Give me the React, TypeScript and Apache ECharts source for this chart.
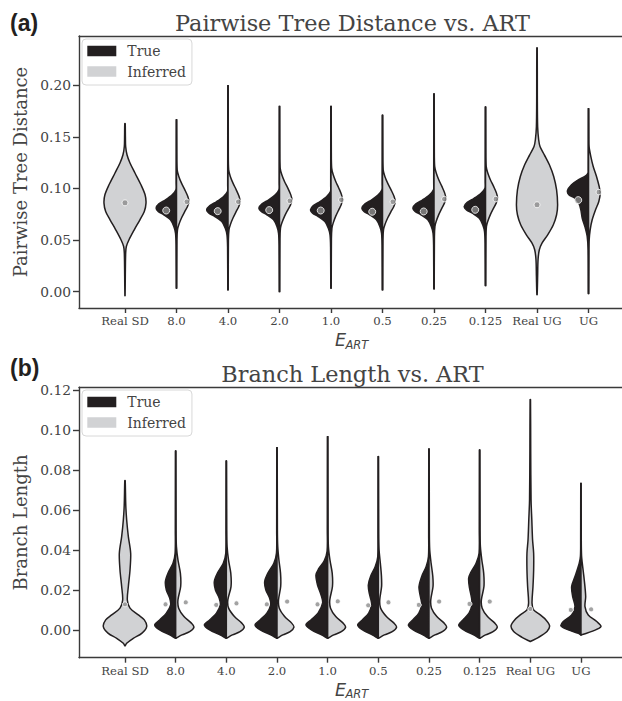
import React, { useEffect, useRef } from "react";
import * as echarts from "echarts";

const categories = ["Real SD", "8.0", "4.0", "2.0", "1.0", "0.5", "0.25", "0.125", "Real UG", "UG"];
const aTicks = [0, 0.05, 0.1, 0.15, 0.2];
const bTicks = [0, 0.02, 0.04, 0.06, 0.08, 0.1, 0.12];

// ---- Panel (a): violin profiles, [value, half-width in category units], top to bottom
const aRealSD = [[0.163,0.004],[0.15,0.008],[0.1408,0.013],[0.1327,0.039],[0.1247,0.097],[0.115,0.194],[0.1036,0.31],[0.0939,0.39],[0.0858,0.408],[0.0777,0.375],[0.0696,0.29],[0.0599,0.18],[0.0502,0.078],[0.0437,0.026],[0.0373,0.013],[0.015,0.006],[-0.004,0.002]];
const aRealUG = [[0.2366,0.004],[0.19,0.006],[0.16,0.012],[0.1473,0.032],[0.1408,0.058],[0.1327,0.142],[0.123,0.24],[0.1117,0.324],[0.0987,0.38],[0.0842,0.4],[0.0745,0.38],[0.0648,0.317],[0.055,0.207],[0.047,0.097],[0.0405,0.045],[0.0308,0.02],[0.015,0.012],[-0.003,0.003]];
const a8True = [[0.1666,0.004],[0.105,0.006],[0.0987,0.01],[0.0939,0.084],[0.089,0.214],[0.0851,0.343],[0.081,0.395],[0.0777,0.356],[0.0745,0.246],[0.0696,0.117],[0.0631,0.052],[0.0567,0.019],[0.045,0.008],[0.0033,0.004]];
const a8Inf = [[0.1666,0.004],[0.135,0.006],[0.1182,0.013],[0.1117,0.045],[0.1052,0.097],[0.0987,0.162],[0.0922,0.22],[0.0874,0.24],[0.0825,0.214],[0.0777,0.162],[0.0713,0.097],[0.0648,0.045],[0.0599,0.019],[0.05,0.008],[0.0033,0.004]];
const a4True = [[0.1997,0.004],[0.103,0.006],[0.097,0.01],[0.0922,0.086],[0.0873,0.22],[0.0834,0.352],[0.0793,0.414],[0.076,0.37],[0.0728,0.255],[0.0679,0.12],[0.0614,0.053],[0.055,0.02],[0.043,0.008],[0.0017,0.004]];
const a4Inf = [[0.1997,0.004],[0.135,0.006],[0.1182,0.013],[0.1117,0.045],[0.1052,0.097],[0.0987,0.16],[0.0922,0.216],[0.0874,0.233],[0.0825,0.21],[0.0777,0.16],[0.0713,0.097],[0.0648,0.045],[0.0599,0.019],[0.05,0.008],[0.0017,0.004]];
const a2True = [[0.1796,0.004],[0.105,0.006],[0.0987,0.01],[0.0939,0.082],[0.089,0.21],[0.0851,0.34],[0.081,0.4],[0.0777,0.355],[0.0745,0.245],[0.0696,0.115],[0.0631,0.05],[0.0567,0.019],[0.045,0.008],[0.0,0.004]];
const a2Inf = [[0.1796,0.004],[0.137,0.006],[0.1198,0.013],[0.1133,0.045],[0.1068,0.097],[0.1003,0.162],[0.0938,0.22],[0.089,0.24],[0.0841,0.214],[0.0793,0.162],[0.0729,0.097],[0.0664,0.045],[0.0615,0.019],[0.051,0.008],[0.0,0.004]];
const a1True = [[0.1796,0.004],[0.103,0.006],[0.097,0.01],[0.0922,0.084],[0.0873,0.214],[0.0834,0.343],[0.0793,0.398],[0.076,0.358],[0.0728,0.248],[0.0679,0.118],[0.0614,0.052],[0.055,0.019],[0.043,0.008],[0.0033,0.004]];
const a1Inf = [[0.1796,0.004],[0.137,0.006],[0.1198,0.013],[0.1133,0.043],[0.1068,0.092],[0.1003,0.152],[0.0938,0.205],[0.089,0.22],[0.0841,0.198],[0.0793,0.15],[0.0729,0.09],[0.0664,0.042],[0.0615,0.018],[0.051,0.008],[0.0033,0.004]];
const a05True = [[0.171,0.004],[0.105,0.006],[0.0987,0.01],[0.0939,0.083],[0.089,0.21],[0.0851,0.34],[0.081,0.4],[0.0777,0.36],[0.0745,0.25],[0.0696,0.118],[0.0631,0.052],[0.0567,0.019],[0.045,0.008],[0.0017,0.004]];
const a05Inf = [[0.171,0.004],[0.135,0.006],[0.1182,0.013],[0.1117,0.046],[0.1052,0.1],[0.0987,0.166],[0.0922,0.225],[0.0874,0.246],[0.0825,0.22],[0.0777,0.166],[0.0713,0.1],[0.0648,0.046],[0.0599,0.019],[0.05,0.008],[0.0017,0.004]];
const a025True = [[0.1917,0.004],[0.105,0.006],[0.0987,0.01],[0.0939,0.086],[0.089,0.22],[0.0851,0.352],[0.081,0.41],[0.0777,0.368],[0.0745,0.254],[0.0696,0.12],[0.0631,0.053],[0.0567,0.019],[0.045,0.008],[0.0026,0.004]];
const a025Inf = [[0.1917,0.004],[0.138,0.006],[0.1215,0.013],[0.115,0.043],[0.1085,0.092],[0.102,0.153],[0.0955,0.208],[0.0907,0.227],[0.0858,0.202],[0.081,0.153],[0.0746,0.092],[0.0681,0.043],[0.0632,0.018],[0.053,0.008],[0.0026,0.004]];
const a0125True = [[0.179,0.004],[0.1065,0.006],[0.1002,0.01],[0.0954,0.087],[0.0905,0.222],[0.0866,0.355],[0.0825,0.414],[0.0792,0.37],[0.076,0.255],[0.0711,0.12],[0.0646,0.053],[0.0582,0.019],[0.046,0.008],[0.0058,0.004]];
const a0125Inf = [[0.179,0.004],[0.138,0.006],[0.1215,0.013],[0.115,0.044],[0.1085,0.094],[0.102,0.157],[0.0955,0.213],[0.0907,0.233],[0.0858,0.207],[0.081,0.157],[0.0746,0.094],[0.0681,0.044],[0.0632,0.018],[0.053,0.008],[0.0058,0.004]];
const aUGTrue = [[0.1774,0.004],[0.118,0.006],[0.115,0.01],[0.1117,0.071],[0.1084,0.2],[0.1036,0.33],[0.098,0.408],[0.0939,0.382],[0.0907,0.266],[0.0858,0.188],[0.0793,0.149],[0.0713,0.123],[0.0631,0.071],[0.0534,0.026],[0.04,0.008],[-0.002,0.004]];
const aUGInf = [[0.1774,0.004],[0.15,0.006],[0.1408,0.01],[0.131,0.045],[0.1214,0.091],[0.1117,0.155],[0.1019,0.207],[0.0955,0.227],[0.0874,0.2],[0.0793,0.136],[0.0696,0.071],[0.0599,0.032],[0.0502,0.013],[0.04,0.008],[-0.002,0.004]];

const aFull = [aRealSD, null, null, null, null, null, null, null, aRealUG, null];
const aTrue = [null, a8True, a4True, a2True, a1True, a05True, a025True, a0125True, null, aUGTrue];
const aInf = [null, a8Inf, a4Inf, a2Inf, a1Inf, a05Inf, a025Inf, a0125Inf, null, aUGInf];
const aRealMeans = [0.0861, null, null, null, null, null, null, null, 0.0842, null];
const aTrueMeans = [null, 0.0786, 0.078, 0.079, 0.0786, 0.0774, 0.0777, 0.0793, null, 0.0887];
const aInfMeans = [null, 0.0871, 0.0871, 0.088, 0.089, 0.0871, 0.0897, 0.0897, null, 0.0965];

// ---- Panel (b)
const bRealSD = [[0.0747,0.004],[0.0625,0.015],[0.055,0.033],[0.0467,0.066],[0.0384,0.112],[0.03,0.099],[0.0217,0.066],[0.015,0.046],[0.0109,0.099],[0.0075,0.263],[0.005,0.381],[0.0017,0.428],[-0.0017,0.33],[-0.0042,0.164],[-0.0067,0.033],[-0.008,0.002]];
const bRealUG = [[0.1153,0.004],[0.09,0.008],[0.065,0.015],[0.055,0.03],[0.045,0.045],[0.0384,0.066],[0.03,0.066],[0.0217,0.053],[0.0134,0.034],[0.01,0.066],[0.0075,0.197],[0.005,0.309],[0.002,0.381],[-0.0008,0.329],[-0.0037,0.164],[-0.0058,0.002]];
const b8True = [[0.0895,0.004],[0.05,0.006],[0.0385,0.01],[0.0334,0.053],[0.0284,0.152],[0.0242,0.203],[0.02,0.184],[0.0159,0.118],[0.0125,0.099],[0.0084,0.184],[0.005,0.316],[0.0025,0.414],[0.0,0.316],[-0.0025,0.118],[-0.0042,0.002]];
const b8Inf = [[0.0895,0.004],[0.05,0.008],[0.0417,0.015],[0.035,0.045],[0.0284,0.093],[0.0217,0.099],[0.015,0.045],[0.0109,0.059],[0.0067,0.164],[0.0034,0.31],[0.0014,0.361],[-0.0009,0.276],[-0.0025,0.124],[-0.0042,0.002]];
const b4True = [[0.0845,0.004],[0.05,0.006],[0.0385,0.01],[0.0334,0.06],[0.0284,0.175],[0.0242,0.237],[0.02,0.215],[0.0159,0.14],[0.0125,0.118],[0.0084,0.195],[0.005,0.33],[0.0025,0.434],[0.0,0.33],[-0.0025,0.124],[-0.0042,0.002]];
const b4Inf = [[0.0845,0.004],[0.05,0.008],[0.0417,0.015],[0.035,0.043],[0.0284,0.088],[0.0217,0.093],[0.015,0.03],[0.0109,0.045],[0.0067,0.16],[0.0034,0.305],[0.0014,0.355],[-0.0009,0.27],[-0.0025,0.12],[-0.0042,0.002]];
const b2True = [[0.0912,0.004],[0.05,0.006],[0.0385,0.01],[0.0334,0.062],[0.0284,0.18],[0.0242,0.243],[0.02,0.22],[0.0159,0.145],[0.0125,0.124],[0.0084,0.2],[0.005,0.335],[0.0025,0.434],[0.0,0.33],[-0.0025,0.124],[-0.0042,0.002]];
const b2Inf = [[0.0912,0.004],[0.05,0.008],[0.0417,0.015],[0.035,0.038],[0.0284,0.07],[0.0217,0.073],[0.015,0.03],[0.0109,0.045],[0.0067,0.15],[0.0034,0.29],[0.0014,0.335],[-0.0009,0.26],[-0.0025,0.115],[-0.0042,0.002]];
const b1True = [[0.0967,0.004],[0.05,0.006],[0.0395,0.01],[0.0345,0.07],[0.0305,0.18],[0.0275,0.231],[0.0225,0.2],[0.0175,0.13],[0.0135,0.099],[0.0084,0.19],[0.005,0.33],[0.0025,0.428],[0.0,0.32],[-0.0025,0.12],[-0.0042,0.002]];
const b1Inf = [[0.0967,0.004],[0.05,0.008],[0.0417,0.015],[0.035,0.045],[0.0284,0.09],[0.0217,0.095],[0.015,0.042],[0.0109,0.057],[0.0067,0.16],[0.0034,0.305],[0.0014,0.355],[-0.0009,0.27],[-0.0025,0.12],[-0.0042,0.002]];
const b05True = [[0.0867,0.004],[0.048,0.006],[0.0367,0.01],[0.0317,0.06],[0.027,0.15],[0.0225,0.197],[0.0185,0.18],[0.015,0.145],[0.0125,0.132],[0.0084,0.19],[0.005,0.315],[0.0025,0.408],[0.0,0.31],[-0.0025,0.118],[-0.0042,0.002]];
const b05Inf = [[0.0867,0.004],[0.048,0.008],[0.04,0.015],[0.0334,0.04],[0.027,0.062],[0.0217,0.065],[0.015,0.028],[0.0109,0.045],[0.0067,0.16],[0.0034,0.31],[0.0014,0.361],[-0.0009,0.275],[-0.0025,0.12],[-0.0042,0.002]];
const b025True = [[0.0905,0.004],[0.048,0.006],[0.0367,0.01],[0.0317,0.055],[0.027,0.14],[0.0217,0.197],[0.018,0.18],[0.015,0.155],[0.0125,0.144],[0.0084,0.2],[0.005,0.32],[0.0025,0.408],[0.0,0.31],[-0.0025,0.118],[-0.0042,0.002]];
const b025Inf = [[0.0905,0.004],[0.048,0.008],[0.04,0.015],[0.0334,0.042],[0.027,0.075],[0.0217,0.08],[0.015,0.035],[0.0109,0.05],[0.0067,0.155],[0.0034,0.3],[0.0014,0.349],[-0.0009,0.265],[-0.0025,0.118],[-0.0042,0.002]];
const b0125True = [[0.09,0.004],[0.05,0.006],[0.0385,0.01],[0.0334,0.07],[0.029,0.17],[0.0258,0.217],[0.021,0.2],[0.016,0.16],[0.0125,0.152],[0.0084,0.21],[0.005,0.33],[0.0025,0.414],[0.0,0.315],[-0.0025,0.118],[-0.0042,0.002]];
const b0125Inf = [[0.09,0.004],[0.05,0.008],[0.0417,0.015],[0.035,0.043],[0.0284,0.08],[0.0217,0.085],[0.015,0.034],[0.0109,0.05],[0.0067,0.155],[0.0034,0.3],[0.0014,0.349],[-0.0009,0.265],[-0.0025,0.118],[-0.0042,0.002]];
const bUGTrue = [[0.0733,0.004],[0.045,0.006],[0.037,0.01],[0.0334,0.034],[0.0267,0.118],[0.0217,0.184],[0.0167,0.164],[0.0117,0.118],[0.0075,0.184],[0.0042,0.349],[0.002,0.395],[0.0,0.25],[-0.0017,0.053],[-0.0025,0.002]];
const bUGInf = [[0.0733,0.004],[0.045,0.006],[0.037,0.012],[0.0334,0.026],[0.025,0.065],[0.0167,0.093],[0.0117,0.079],[0.0075,0.144],[0.0042,0.31],[0.0017,0.395],[-0.0005,0.243],[-0.0022,0.045],[-0.0025,0.002]];

const bFull = [bRealSD, null, null, null, null, null, null, null, bRealUG, null];
const bTrue = [null, b8True, b4True, b2True, b1True, b05True, b025True, b0125True, null, bUGTrue];
const bInf = [null, b8Inf, b4Inf, b2Inf, b1Inf, b05Inf, b025Inf, b0125Inf, null, bUGInf];
const bRealMeans = [0.0128, null, null, null, null, null, null, null, 0.0105, null];
const bTrueMeans = [null, 0.0128, 0.0125, 0.0128, 0.0128, 0.0123, 0.0125, 0.013, null, 0.01];
const bInfMeans = [null, 0.0138, 0.0133, 0.0142, 0.0143, 0.0138, 0.0142, 0.0142, null, 0.0103];

const DARK = "#231f20";
const LIGHT = "#d1d2d4";
const TEXT = "#444444";
const DOT = "#8c8c8c";
const SERIF = "DejaVu Serif";
const DODGE = 0.2;

type Prof = number[][];

function violinSeries(name: string, list: (Prof | null)[], side: number, fill: string, axisIdx: number, yIdx: number) {
  const profiles: Prof[] = [];
  const data: number[][] = [];
  list.forEach((p, i) => {
    if (p) {
      profiles.push(p);
      data.push([i, p[0][0], p[p.length - 1][0]]);
    }
  });
  return {
    type: "custom",
    name,
    xAxisIndex: axisIdx,
    yAxisIndex: yIdx,
    z: 2,
    encode: { x: 0, y: [1, 2] },
    data,
    renderItem: (params: any, api: any) => {
      const prof = profiles[params.dataIndex];
      const cat = api.value(0);
      let pts: number[][];
      if (side === 0) {
        const right = prof.map(([v, w]) => api.coord([cat + w, v]));
        const left = prof.slice().reverse().map(([v, w]) => api.coord([cat - w, v]));
        pts = right.concat(left);
      } else {
        const outer = prof.map(([v, w]) => api.coord([cat + side * w, v]));
        const bot = api.coord([cat, prof[prof.length - 1][0]]);
        const top = api.coord([cat, prof[0][0]]);
        pts = [...outer, bot, bot, top, top];
      }
      return {
        type: "polygon",
        shape: { points: pts, smooth: 0.3 },
        style: { fill, stroke: DARK, lineWidth: 1.5 },
      };
    },
  };
}

function dotSeries(name: string, means: (number | null)[], offset: number, size: number, axisIdx: number, yIdx: number) {
  const data: number[][] = [];
  means.forEach((m, i) => {
    if (m !== null) data.push([i + offset, m]);
  });
  return {
    type: "scatter",
    name,
    xAxisIndex: axisIdx,
    yAxisIndex: yIdx,
    z: 4,
    symbol: "circle",
    symbolSize: size,
    itemStyle: { color: DOT, borderColor: "#ffffff", borderWidth: 1 },
    data,
    silent: true,
  };
}

const lineStyle = { color: "#3a3a3a", width: 1.4 };
const catIdx = categories.map((_, i) => i);

function xAxes(grid: number, min: number, max: number) {
  return [
    {
      gridIndex: grid,
      type: "value",
      min,
      max,
      axisLine: { show: true, onZero: false, lineStyle },
      axisTick: { show: true, customValues: catIdx, length: 5, lineStyle },
      axisLabel: {
        customValues: catIdx,
        formatter: (v: number) => categories[Math.round(v)],
        fontFamily: SERIF,
        fontSize: 11.7,
        color: TEXT,
        margin: 7,
      },
      splitLine: { show: false },
    },
    {
      gridIndex: grid,
      type: "value",
      position: "top",
      min,
      max,
      axisLine: { show: true, onZero: false, lineStyle },
      axisTick: { show: false },
      axisLabel: { show: false },
      splitLine: { show: false },
    },
  ];
}

function yAxis(grid: number, min: number, max: number, ticks: number[], name: string) {
  return {
    gridIndex: grid,
    type: "value",
    min,
    max,
    name,
    nameLocation: "middle",
    nameGap: 44,
    nameTextStyle: { fontFamily: SERIF, fontSize: 18, color: TEXT },
    axisLine: { show: true, onZero: false, lineStyle },
    axisTick: { show: true, customValues: ticks, length: 6, lineStyle },
    axisLabel: {
      customValues: ticks,
      formatter: (v: number) => v.toFixed(2),
      fontFamily: SERIF,
      fontSize: 13.8,
      color: TEXT,
      margin: 8,
    },
    splitLine: { show: false },
  };
}

function legend(top: number) {
  return {
    left: 82,
    top,
    orient: "vertical",
    itemWidth: 29,
    itemHeight: 10.5,
    itemGap: 4.5,
    padding: [4, 6, 5.5, 5.3],
    backgroundColor: "rgba(255,255,255,0.85)",
    borderColor: "#d8d8d8",
    borderWidth: 1,
    borderRadius: 4,
    selectedMode: false,
    textStyle: { fontFamily: SERIF, fontSize: 14, color: TEXT, lineHeight: 16, padding: [0, 0, 0, 6] },
    data: [
      { name: "True", icon: "rect", itemStyle: { color: DARK, borderWidth: 0 } },
      { name: "Inferred", icon: "rect", itemStyle: { color: LIGHT, borderWidth: 0 } },
    ],
  };
}

function labelText(x: number, y: number, text: string, style: any) {
  return { type: "text", x, y, silent: true, style: { text, ...style } };
}

export default function App() {
  const ref = useRef<HTMLDivElement>(null);
  useEffect(() => {
    if (!ref.current) return;
    const chart = echarts.init(ref.current, undefined, { renderer: "svg" });
    const titleStyle = { fontFamily: SERIF, fontSize: 22.4, fill: TEXT, align: "center", verticalAlign: "middle" };
    const panelStyle = { fontFamily: "Liberation Sans", fontWeight: "bold", fontSize: 23, fill: DARK, align: "left", verticalAlign: "middle" };
    const eStyle = { fontFamily: "DejaVu Sans", fontStyle: "italic", fontSize: 17.5, fill: TEXT, align: "left", verticalAlign: "middle" };
    const subStyle = { fontFamily: "DejaVu Sans", fontStyle: "italic", fontSize: 11.5, fill: TEXT, align: "left", verticalAlign: "middle" };
    chart.setOption({
      animation: false,
      backgroundColor: "#ffffff",
      grid: [
        { left: 79, top: 36, width: 543, height: 272 },
        { left: 79, top: 387.3, width: 543, height: 270.4 },
      ],
      xAxis: [...xAxes(0, -0.893, 9.65), ...xAxes(1, -0.908, 9.81)],
      yAxis: [
        yAxis(0, -0.016, 0.248, aTicks, "Pairwise Tree Distance"),
        yAxis(1, -0.0139, 0.1214, bTicks, "Branch Length"),
      ],
      legend: [legend(39), legend(390)],
      graphic: [
        labelText(352.5, 22.5, "Pairwise Tree Distance vs. ART", titleStyle),
        labelText(352.5, 374, "Branch Length vs. ART", titleStyle),
        labelText(10, 22.5, "(a)", panelStyle),
        labelText(10, 368.3, "(b)", panelStyle),
        labelText(335, 340, "E", eStyle),
        labelText(345.5, 344.5, "ART", subStyle),
        labelText(335, 689.7, "E", eStyle),
        labelText(345.5, 694.2, "ART", subStyle),
      ],
      series: [
        violinSeries("True", aTrue, -1, DARK, 0, 0),
        violinSeries("Inferred", aInf, 1, LIGHT, 0, 0),
        violinSeries("Inferred", aFull, 0, LIGHT, 0, 0),
        dotSeries("a-real-mean", aRealMeans, 0, 6, 0, 0),
        dotSeries("a-true-mean", aTrueMeans, -DODGE, 7, 0, 0),
        dotSeries("a-inf-mean", aInfMeans, DODGE, 5.5, 0, 0),
        violinSeries("True", bTrue, -1, DARK, 2, 1),
        violinSeries("Inferred", bInf, 1, LIGHT, 2, 1),
        violinSeries("Inferred", bFull, 0, LIGHT, 2, 1),
        dotSeries("b-real-mean", bRealMeans, 0, 5, 2, 1),
        dotSeries("b-true-mean", bTrueMeans, -DODGE, 5, 2, 1),
        dotSeries("b-inf-mean", bInfMeans, DODGE, 5, 2, 1),
      ],
    });
    return () => chart.dispose();
  }, []);
  return <div ref={ref} style={{ position: "absolute", left: 0, top: 0, width: 622, height: 701 }} />;
}
